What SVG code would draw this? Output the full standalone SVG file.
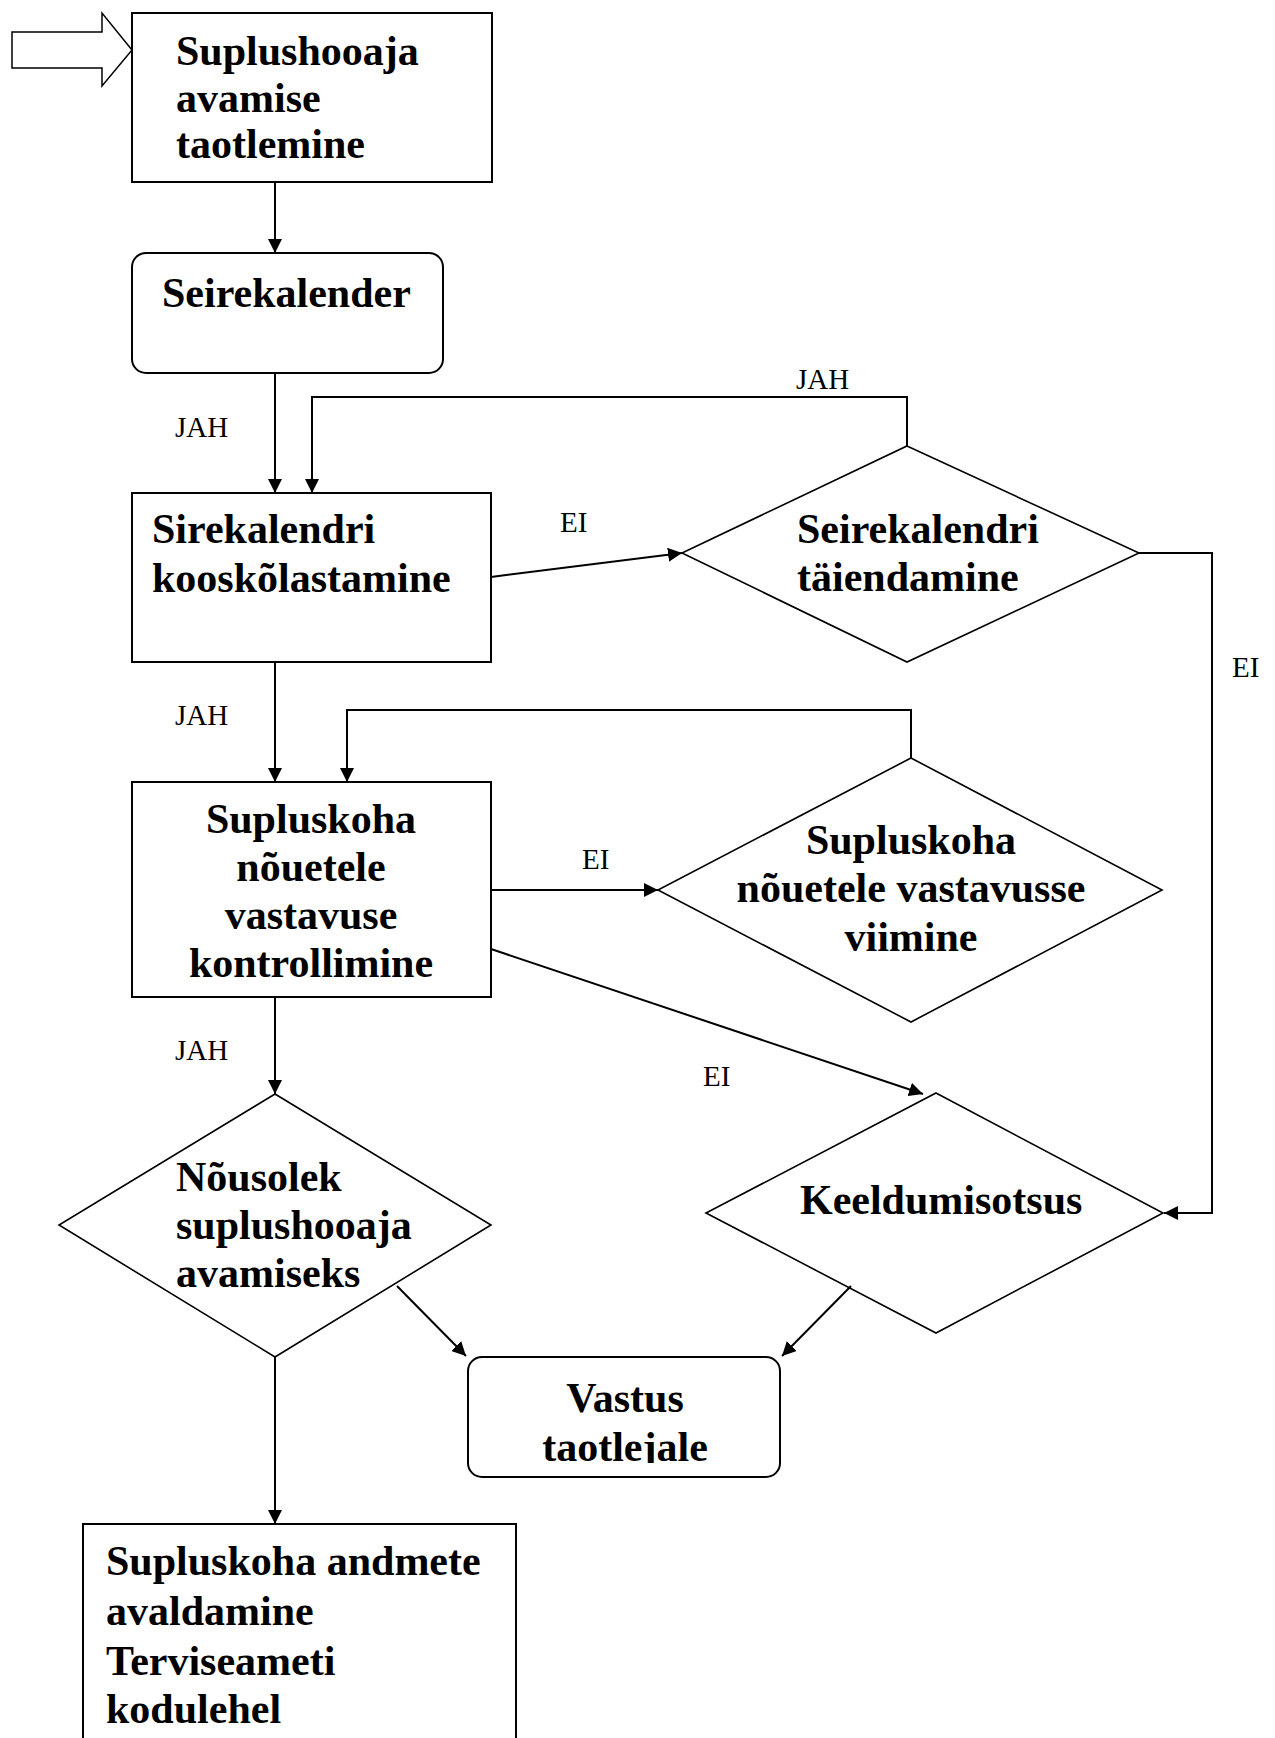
<svg xmlns="http://www.w3.org/2000/svg" width="1275" height="1738" viewBox="0 0 1275 1738">
<style>
.box{fill:#fff;stroke:#000;stroke-width:2}
.dia{fill:#fff;stroke:#000;stroke-width:1.6}
.t{font-family:"Liberation Serif","Times New Roman",serif;font-weight:bold;font-size:42px;fill:#000}
.l{font-family:"Liberation Serif","Times New Roman",serif;font-size:29px;fill:#000}
.c{fill:none;stroke:#000;stroke-width:2}
.m{text-anchor:middle}
</style>
<defs>
<marker id="ah" markerUnits="userSpaceOnUse" markerWidth="14" markerHeight="14" refX="14" refY="7" orient="auto">
<path d="M0,0 L14,7 L0,14 z" fill="#000"/>
</marker>
<clipPath id="vclip"><rect x="468" y="1357" width="312" height="106"/></clipPath>
</defs>
<rect width="1275" height="1738" fill="#fff"/>

<g id="start-arrow">
<polygon points="12,32 102,32 102,13 132,50 102,86 102,68 12,68" fill="#fff" stroke="#000" stroke-width="1.5"/>
</g>

<g id="n1">
<rect class="box" x="132" y="13" width="360" height="169"/>
<text class="t" x="176" y="65">Suplushooaja</text>
<text class="t" x="176" y="112">avamise</text>
<text class="t" x="176" y="158">taotlemine</text>
</g>

<g id="n2">
<rect class="box" x="132" y="253" width="311" height="120" rx="14" ry="14"/>
<text class="t" x="162" y="307">Seirekalender</text>
</g>

<g id="n3">
<rect class="box" x="132" y="493" width="359" height="169"/>
<text class="t" x="152" y="543">Sirekalendri</text>
<text class="t" x="152" y="592">kooskõlastamine</text>
</g>

<g id="n4">
<polygon class="dia" points="907,446 1139,553 907,662 682,553"/>
<text class="t" x="797" y="543">Seirekalendri</text>
<text class="t" x="797" y="591">täiendamine</text>
</g>

<g id="n5">
<rect class="box" x="132" y="782" width="359" height="215"/>
<text class="t m" x="311" y="833">Supluskoha</text>
<text class="t m" x="311" y="881">nõuetele</text>
<text class="t m" x="311" y="929">vastavuse</text>
<text class="t m" x="311" y="977">kontrollimine</text>
</g>

<g id="n6">
<polygon class="dia" points="911,758 1162,890 911,1022 658,890"/>
<text class="t m" x="911" y="854">Supluskoha</text>
<text class="t m" x="911" y="902">nõuetele vastavusse</text>
<text class="t m" x="911" y="951">viimine</text>
</g>

<g id="n7">
<polygon class="dia" points="275,1094 491,1225 275,1357 59,1225"/>
<text class="t" x="176" y="1191">Nõusolek</text>
<text class="t" x="176" y="1239">suplushooaja</text>
<text class="t" x="176" y="1287">avamiseks</text>
</g>

<g id="n8">
<polygon class="dia" points="936,1093 1163,1213 936,1333 706,1213"/>
<text class="t" x="800" y="1214">Keeldumisotsus</text>
</g>

<g id="n9">
<rect class="box" x="468" y="1357" width="312" height="120" rx="14" ry="14"/>
<text class="t m" x="625" y="1412">Vastus</text>
<text class="t m" x="625" y="1461" clip-path="url(#vclip)">taotlejale</text>
</g>

<g id="n10">
<rect class="box" x="83" y="1524" width="433" height="230"/>
<text class="t" x="106" y="1575">Supluskoha andmete</text>
<text class="t" x="106" y="1625">avaldamine</text>
<text class="t" x="106" y="1675">Terviseameti</text>
<text class="t" x="106" y="1723">kodulehel</text>
</g>

<g id="connectors">
<path class="c" d="M275,182 L275,253" marker-end="url(#ah)"/>
<path class="c" d="M275,373 L275,493" marker-end="url(#ah)"/>
<path class="c" d="M907,446 L907,397 L312,397 L312,493" marker-end="url(#ah)"/>
<path class="c" d="M491,577 L682,553" marker-end="url(#ah)"/>
<path class="c" d="M1139,553 L1212,553 L1212,1213 L1164,1213" marker-end="url(#ah)"/>
<path class="c" d="M275,662 L275,782" marker-end="url(#ah)"/>
<path class="c" d="M911,758 L911,710 L347,710 L347,782" marker-end="url(#ah)"/>
<path class="c" d="M491,890 L658,890" marker-end="url(#ah)"/>
<path class="c" d="M275,997 L275,1094" marker-end="url(#ah)"/>
<path class="c" d="M491,949 L923,1094" marker-end="url(#ah)"/>
<path class="c" d="M275,1357 L275,1524" marker-end="url(#ah)"/>
<path class="c" d="M397,1286 L466,1356" marker-end="url(#ah)"/>
<path class="c" d="M851,1286 L782,1356" marker-end="url(#ah)"/>
</g>

<g id="labels">
<text class="l" x="175" y="437">JAH</text>
<text class="l" x="796" y="389">JAH</text>
<text class="l" x="560" y="532">EI</text>
<text class="l" x="1232" y="677">EI</text>
<text class="l" x="175" y="725">JAH</text>
<text class="l" x="582" y="869">EI</text>
<text class="l" x="175" y="1060">JAH</text>
<text class="l" x="703" y="1086">EI</text>
</g>
</svg>
